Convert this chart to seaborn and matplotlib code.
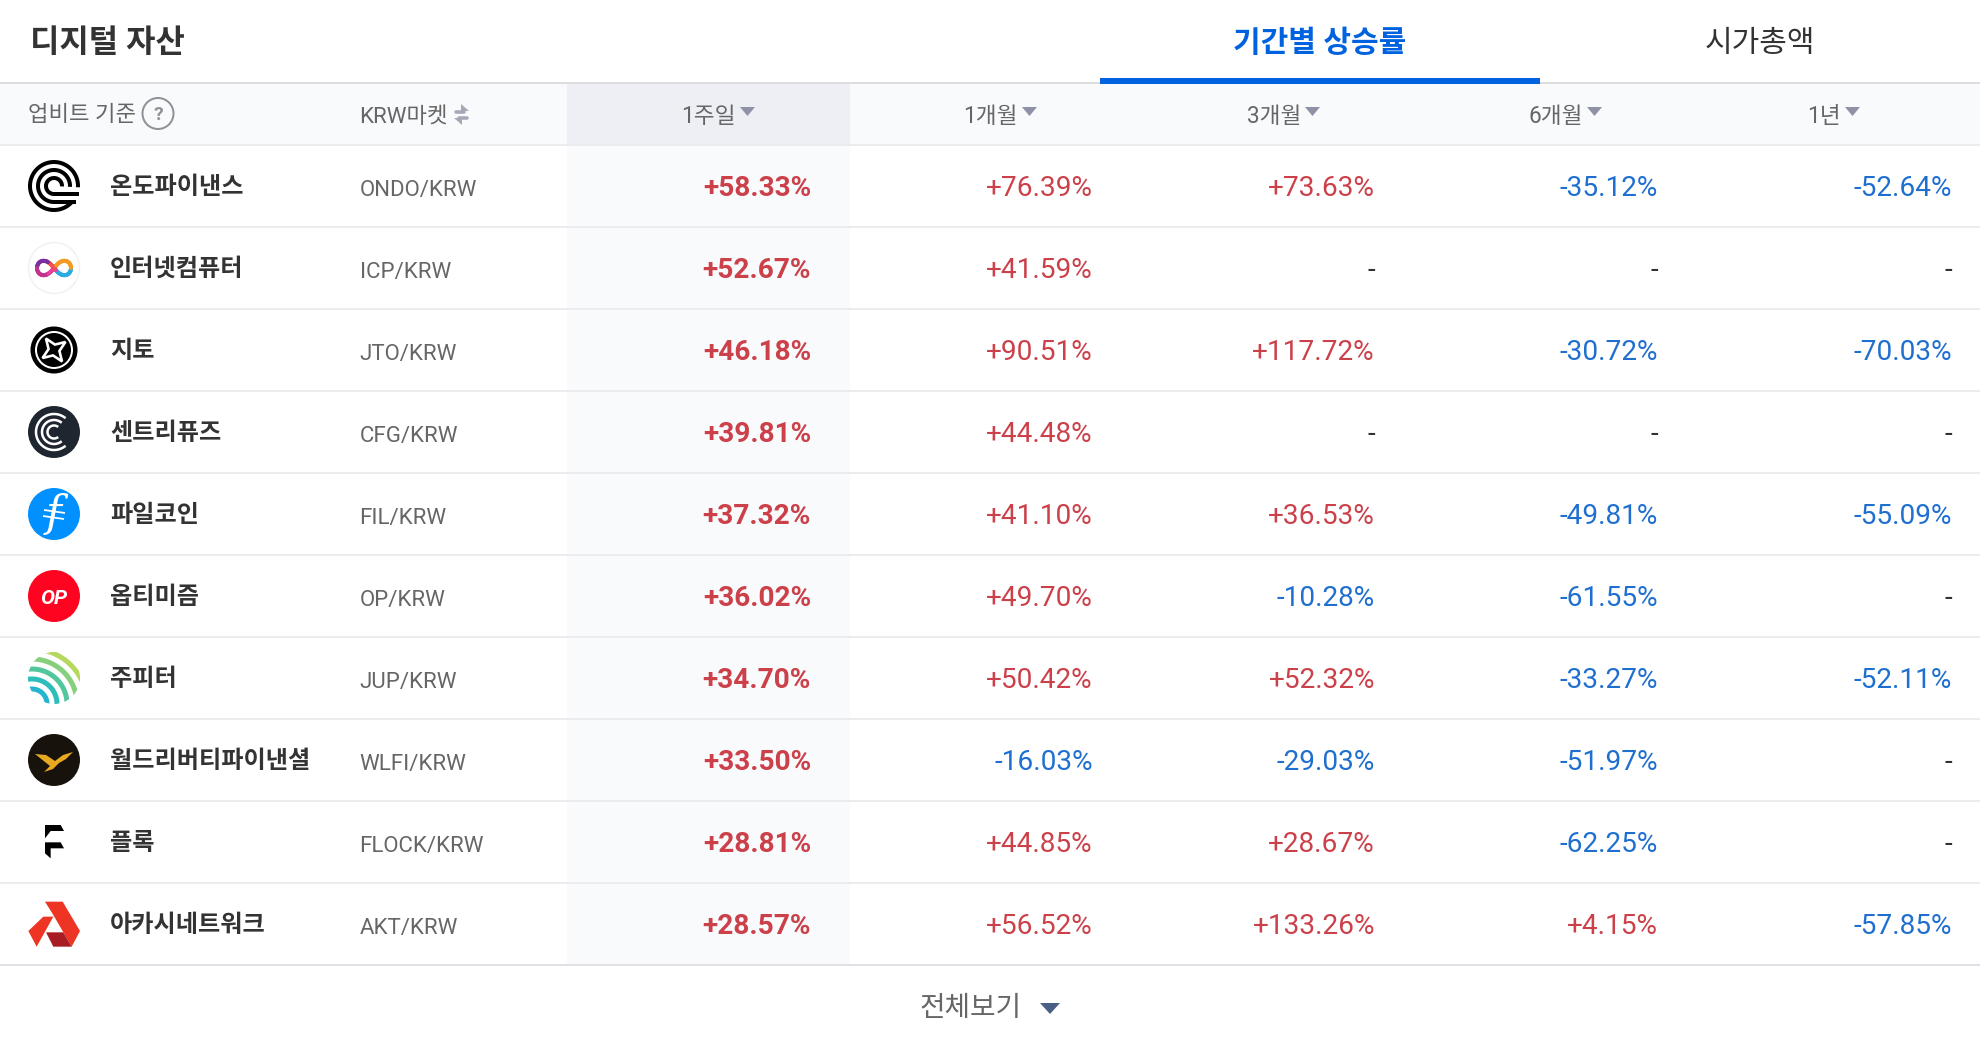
import numpy as np
import pandas as pd
import seaborn as sns
import matplotlib.pyplot as plt
from matplotlib.patches import Circle, Polygon

# data
names = ["온도파이낸스", "인터넷컴퓨터", "지토", "센트리퓨즈", "파일코인",
         "옵티미즘", "주피터", "월드리버티파이낸셜", "플록", "아카시네트워크"]
pairs = ["ONDO/KRW", "ICP/KRW", "JTO/KRW", "CFG/KRW", "FIL/KRW",
         "OP/KRW", "JUP/KRW", "WLFI/KRW", "FLOCK/KRW", "AKT/KRW"]
week_1 = [58.33, 52.67, 46.18, 39.81, 37.32, 36.02, 34.70, 33.50, 28.81, 28.57]
month_1 = [76.39, 41.59, 90.51, 44.48, 41.10, 49.70, 50.42, -16.03, 44.85, 56.52]
month_3 = [73.63, None, 117.72, None, 36.53, -10.28, 52.32, -29.03, 28.67, 133.26]
month_6 = [-35.12, None, -30.72, None, -49.81, -61.55, -33.27, -51.97, -62.25, 4.15]
year_1 = [-52.64, None, -70.03, None, -55.09, None, -52.11, None, None, -57.85]
period_labels = ["1주일", "1개월", "3개월", "6개월", "1년"]
icon_colors = ["#ffffff", "#ffffff", "#ffffff", "#1f2630", "#0090ff",
               "#ff0420", "#ffffff", "#17120c", "#ffffff", "#ffffff"]

RED = "#cb4049"
BLUE = "#1f6fd0"
DARK = "#333333"
GREY = "#666666"
LINE = "#ececee"

sns.set_theme(style="white")
plt.rcParams['font.family'] = ['Roboto', 'Noto Sans CJK KR', 'DejaVu Sans']

fig = plt.figure(figsize=(19.8, 10.46), dpi=100)
ax = fig.add_axes([0, 0, 1, 1])


def lw(px):
    return px * 0.72


row_top = 145
row_h = 82
row_y = [row_top + row_h * (i + 0.5) for i in range(len(names))]
icon_x = 54
col_right = [811, 1093, 1375, 1658, 1952]
head_right = [736, 1018, 1301, 1583, 1841]
series = [week_1, month_1, month_3, month_6, year_1]

# backgrounds
ax.axhspan(83, 145, color="#f9fafc", lw=0, zorder=0)
ax.axvspan(567, 850, ymin=1 - 145 / 1046, ymax=1 - 83 / 1046, color="#eeeff4", lw=0, zorder=1)
ax.axvspan(567, 850, ymin=1 - 965 / 1046, ymax=1 - 145 / 1046, color="#f9fafc", lw=0, zorder=1)

# rules
ax.axhline(83, color="#dddddf", lw=lw(2), zorder=2)
for i in range(len(names)):
    ax.axhline(row_top + row_h * i, color=LINE, lw=lw(2), zorder=2)
ax.axhline(965, color="#e0e0e6", lw=lw(2), zorder=2)
ax.plot([1100, 1540], [81, 81], color="#0062df", lw=lw(6), solid_capstyle="butt", zorder=3)

# top tabs
ax.text(30, 43, "디지털 자산", fontsize=23, fontweight="bold", color=DARK, va="center")
ax.text(1320, 44, "기간별 상승률", fontsize=21.6, fontweight="bold", color="#0062df", va="center", ha="center")
ax.text(1760, 44, "시가총액", fontsize=21.6, color=DARK, va="center", ha="center")

# table header
ax.text(28, 121, "업비트 기준", fontsize=16, color=GREY, va="baseline")
ax.add_patch(Circle((158, 113.5), 15.5, fc="none", ec="#8f9299", lw=lw(2), zorder=3))
ax.text(158, 113.5, "?", fontsize=14, fontweight="bold", color="#8f9299", ha="center", va="center_baseline")
ax.text(359.5, 123, "KRW마켓", fontsize=16, color=GREY, va="baseline")
for pts in ([(461, 104), (469, 111), (461, 111)], [(462, 125), (454, 118), (462, 118)]):
    ax.add_patch(Polygon(pts, fc="#a5a8b5", ec="none", zorder=3))
ax.plot([456, 464], [111.5, 111.5], color="#a5a8b5", lw=lw(3.5), zorder=3)
ax.plot([459, 467], [117.5, 117.5], color="#a5a8b5", lw=lw(3.5), zorder=3)
for label, right in zip(period_labels, head_right):
    ax.text(right, 123, label, fontsize=16.3, color=GREY, ha="right", va="baseline")
    ax.add_patch(Polygon([(right + 4, 107), (right + 19, 107), (right + 11.5, 116)], fc="#8f92a6", ec="none", zorder=3))

# cells
for i, y in enumerate(row_y):
    ax.text(110, y - 1, names[i], fontsize=17.4, fontweight="bold", color=DARK, va="center_baseline")
    ax.text(359.5, y + 10, pairs[i], fontsize=16, color=GREY, va="baseline")
    for c, values in enumerate(series):
        v = values[i]
        if v is None:
            ax.text(col_right[c], y + 10, "-", fontsize=20.2, color=DARK, ha="right", va="baseline")
            continue
        color = RED if v > 0 else BLUE
        ax.text(col_right[c], y + 10, f"{v:+.2f}%", fontsize=20.2, color=color, ha="right", va="baseline",
                fontweight="bold" if c == 0 else "normal")

# coin icon discs
icons = pd.DataFrame({"pair": pairs, "x": [icon_x] * len(pairs), "y": row_y})
sns.scatterplot(data=icons, x="x", y="y", hue="pair", palette=dict(zip(pairs, icon_colors)),
                s=1400, linewidth=0, legend=False, ax=ax, zorder=3)


def stroke(xs, ys, color="white", width=4, clip=None):
    line, = ax.plot(xs, ys, color=color, lw=lw(width), solid_capstyle="butt", zorder=5)
    if clip is not None:
        line.set_clip_path(clip)
    return line


def arc(cx, cy, r, a0, a1):
    t = np.radians(np.linspace(a0, a1, 80))
    return cx + r * np.cos(t), cy - r * np.sin(t)


def from_crop(points, x0=20, y0=805):
    return [(px / 3 + x0, py / 3 + y0) for px, py in points]


# ONDO
cy = row_y[0]
stroke(*arc(icon_x, cy, 24, -3, 320), "black", 4)
for r, end in [(16, 22), (8, 25)]:
    xs, ys = arc(icon_x, cy, r, -3, 270)
    stroke(xs, ys, "black", 4)
    stroke([icon_x, icon_x + end], [cy + r, cy + r], "black", 4)

# ICP
cy = row_y[1]
ax.add_patch(Circle((icon_x, cy), 25.5, fc="white", ec="#f0f0f0", lw=1, zorder=4))
t = np.linspace(0, 2 * np.pi, 121)
lx = icon_x + 17 * np.cos(t) / (1 + np.sin(t) ** 2)
ly = cy + 17 * 1.2 * np.sin(t) * np.cos(t) / (1 + np.sin(t) ** 2)
for k in range(120):
    if lx[k] < icon_x - 6:
        col = "#7b2f9f" if ly[k] < cy else "#c2338f"
    elif lx[k] < icon_x + 2:
        col = "#e8409a" if ly[k] > cy else "#f0504f"
    else:
        col = "#f59a23" if ly[k] < cy else "#2aabe2"
    ax.plot(lx[k:k + 2], ly[k:k + 2], color=col, lw=lw(4), solid_capstyle="round", zorder=5)

# JTO
cy = row_y[2]
ax.add_patch(Circle((icon_x, cy), 23.5, fc="black", ec="none", zorder=4))
ax.add_patch(Circle((icon_x, cy), 18, fc="none", ec="white", lw=lw(2), zorder=4))
star = []
for k in range(8):
    a = np.radians(45 * k + 35)
    r = 14 if k % 2 == 0 else 5.5
    star.append((icon_x + r * np.cos(a), cy - r * np.sin(a)))
ax.add_patch(Polygon(star, fc="black", ec="white", lw=lw(2.6), zorder=5))

# CFG
cy = row_y[3]
for r, w in [(18, 2.5), (12, 2.5), (6.5, 2.5)]:
    stroke(*arc(icon_x, cy, r, 50, 310), "white", w)

# FIL
cy = row_y[4]
ax.text(icon_x, cy, "f", fontsize=31, family="DejaVu Serif", style="italic", color="white",
        ha="center", va="center", zorder=5)
stroke([icon_x - 10, icon_x + 11], [cy - 4, cy - 1], "white", 1.8)
stroke([icon_x - 11, icon_x + 10], [cy + 2, cy + 5], "white", 1.8)

# OP
cy = row_y[5]
ax.text(icon_x, cy, "OP", fontsize=15, fontweight="bold", style="italic", color="white",
        ha="center", va="center_baseline", zorder=5)

# JUP
cy = row_y[6]
jup_clip = Circle((icon_x, cy), 26, transform=ax.transData)
jup_colors = ["#26b5d0", "#2dbdbb", "#52c69c", "#86cf7c", "#b5d85f"]
for r, col in zip([15, 25, 35, 45, 55], jup_colors):
    stroke(*arc(icon_x - 22, cy + 26, r, -25, 150), col, 5, clip=jup_clip)

# WLFI
cy = row_y[7]
wing = [(-19, -6), (-8, -5), (1, 1), (9, -5), (19, -8), (12, -1), (5, 3), (-1, 9), (-10, 12), (-4, 6), (-9, 2)]
ax.add_patch(Polygon([(icon_x + a, cy + b) for a, b in wing], fc="#e8a820", ec="none", zorder=5))

# FLOCK
for shape in ([(75, 60), (122, 60), (132, 78), (92, 78), (75, 100)],
              [(75, 112), (122, 112), (132, 130), (92, 130), (92, 160), (75, 145)]):
    ax.add_patch(Polygon(from_crop(shape), fc="black", ec="none", zorder=5))

# AKT
akt = [([(75, 290), (128, 290), (180, 378), (155, 425), (100, 330)], "#ee3524"),
       ([(70, 335), (100, 335), (50, 425), (25, 378)], "#ee3524"),
       ([(78, 382), (130, 382), (155, 425), (100, 425)], "#a81c24")]
for pts, col in akt:
    ax.add_patch(Polygon(from_crop(pts), fc=col, ec="none", zorder=5))

# footer
ax.text(971, 1005, "전체보기", fontsize=20, color=GREY, ha="center", va="center_baseline")
ax.add_patch(Polygon([(1040, 1003), (1060, 1003), (1050, 1014)], fc="#4a5f85", ec="none", zorder=3))

ax.set_xlim(0, 1980)
ax.set_ylim(1046, 0)
ax.axis("off")

plt.savefig("out.png", dpi=100)
